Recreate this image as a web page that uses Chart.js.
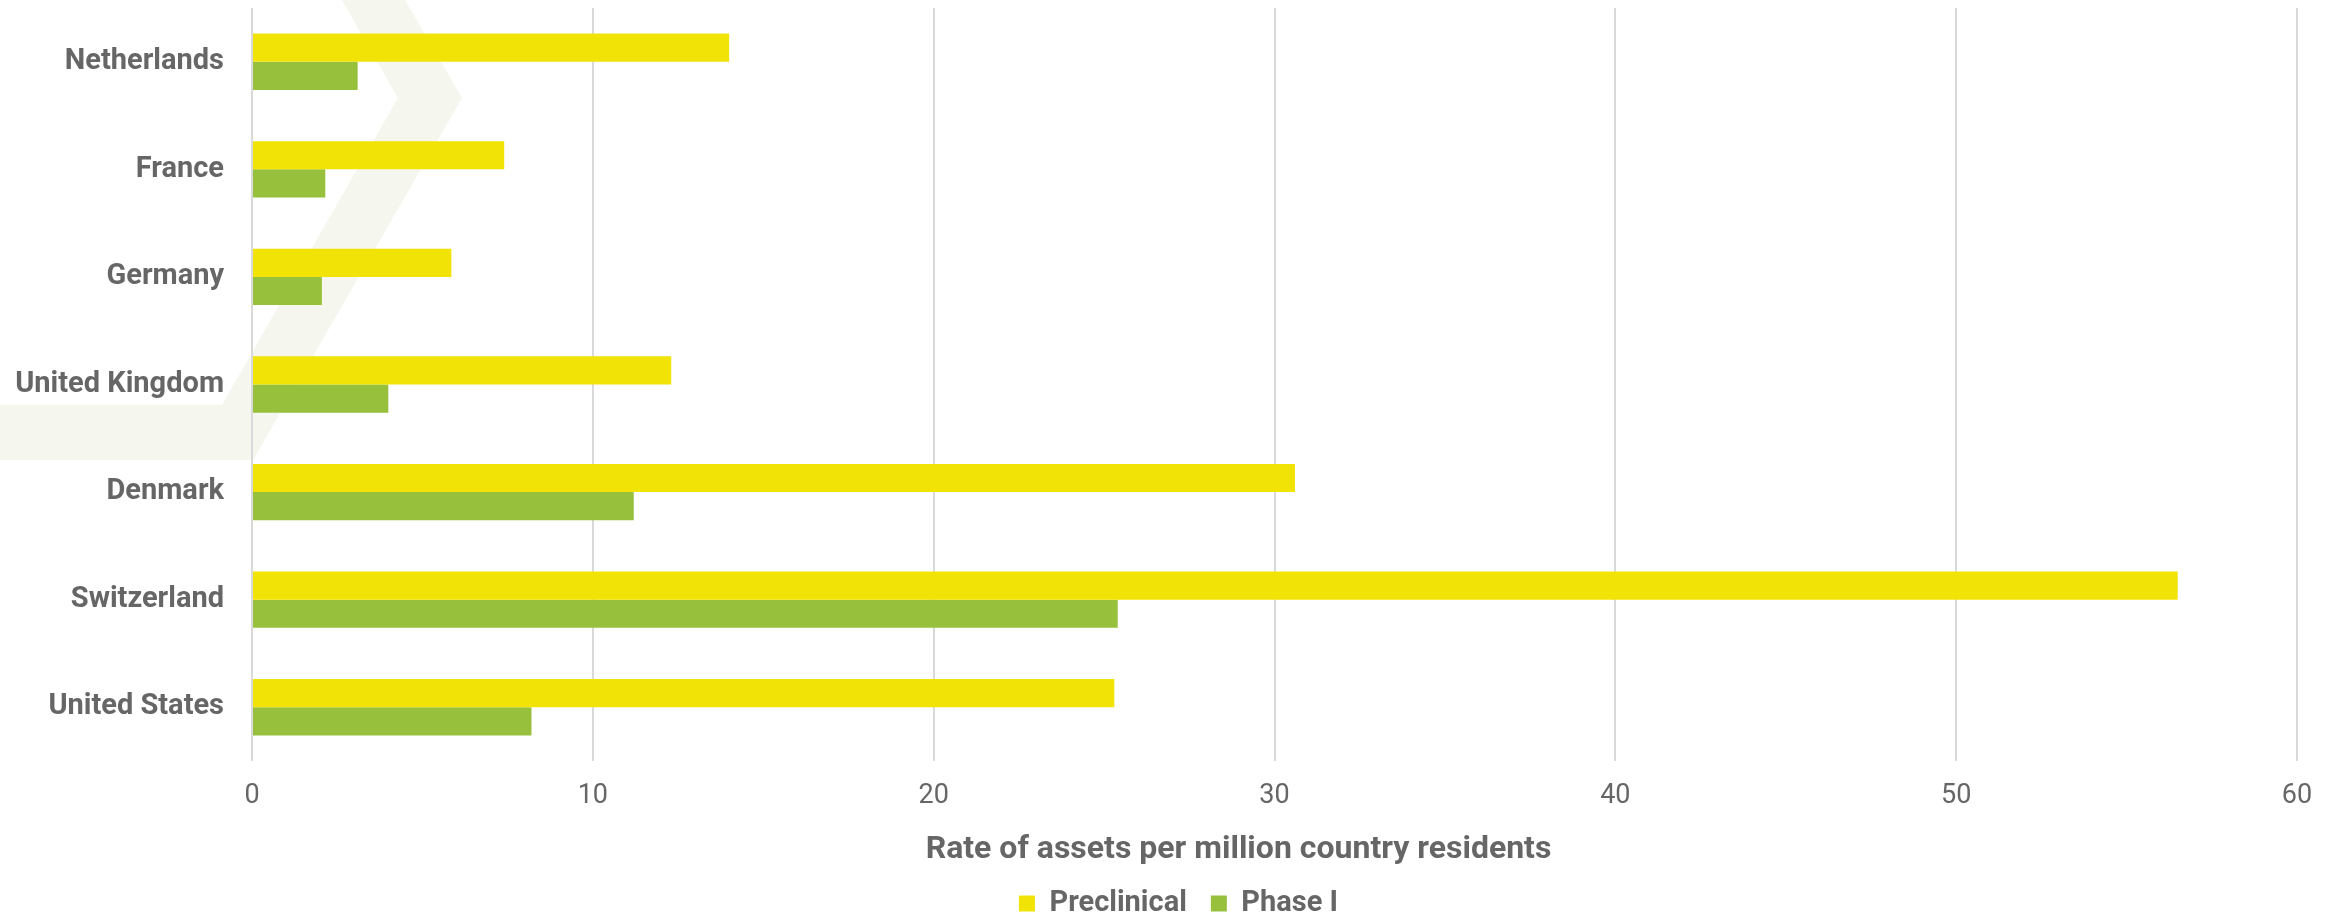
<!DOCTYPE html>
<html>
<head>
<meta charset="utf-8">
<script src="https://cdn.jsdelivr.net/npm/chart.js@4.4.1/dist/chart.umd.min.js"></script>
<style>
    body { margin: 0; background: #fff; }
    #wrap { width: 2341px; height: 917px; position: relative; }
</style>
</head>
<body>
<div id="wrap"><canvas id="rateChart"></canvas></div>
<script>
// Countries, top to bottom
const countries = ['Netherlands', 'France', 'Germany', 'United Kingdom', 'Denmark', 'Switzerland', 'United States'];

// Rate of assets per million residents
const preclinical = [14.0, 7.4, 5.85, 12.3, 30.6, 56.5, 25.3];
const phaseOne = [3.1, 2.15, 2.05, 4.0, 11.2, 25.4, 8.2];

const xTicks = [0, 10, 20, 30, 40, 50, 60];

const grey = '#666666';

// light chevron watermark behind the plot
const watermark = {
    id: 'watermark',
    beforeDraw(chart) {
        const ctx = chart.ctx;
        ctx.save();
        ctx.fillStyle = '#ffffff';
        ctx.fillRect(0, 0, chart.width, chart.height);
        ctx.fillStyle = '#f5f6ee';
        ctx.beginPath();
        ctx.moveTo(342, 0);
        ctx.lineTo(405, 0);
        ctx.lineTo(462, 98);
        ctx.lineTo(253, 460);
        ctx.lineTo(0, 460);
        ctx.lineTo(0, 405);
        ctx.lineTo(222, 405);
        ctx.lineTo(398, 98);
        ctx.closePath();
        ctx.fill();
        ctx.restore();
    }
};

// nudge the legend a bit right, like the original
const legendShift = {
    id: 'legendShift',
    afterLayout(chart) {
        const lg = chart.legend;
        if (!lg) return;
        lg.left += 30;
        lg.right += 30;
    }
};

// the axis title sits a little left of the plot centre in the original
function shiftTitle(axis) {
    if (axis._titleShifted) return;
    axis._titleShifted = true;
    const orig = axis.drawTitle.bind(axis);
    axis.drawTitle = function () {
        this.left -= 36;
        this.right -= 36;
        orig();
        this.left += 36;
        this.right += 36;
    };
}

function drawChart() {
    Chart.defaults.font.family = 'Roboto';
    Chart.defaults.color = grey;

    new Chart(document.getElementById('rateChart'), {
        type: 'bar',
        data: {
            labels: countries,
            datasets: [
                { label: 'Preclinical', data: preclinical, backgroundColor: '#f1e306' },
                { label: 'Phase I', data: phaseOne, backgroundColor: '#97c13d' }
            ]
        },
        options: {
            indexAxis: 'y',
            responsive: true,
            maintainAspectRatio: false,
            animation: false,
            layout: { padding: { top: 8, right: 44, bottom: -11, left: 0 } },
            datasets: { bar: { categoryPercentage: 0.524, barPercentage: 1 } },
            scales: {
                x: {
                    min: xTicks[0],
                    max: xTicks[xTicks.length - 1],
                    afterBuildTicks: axis => { axis.ticks = xTicks.map(v => ({ value: v })); },
                    afterFit: axis => {
                        axis.height = 104;
                        shiftTitle(axis);
                    },
                    grid: { color: '#d9d9d9', lineWidth: 2, drawTicks: false },
                    border: { display: false },
                    ticks: { padding: 19, font: { size: 27 }, color: grey },
                    title: {
                        display: true,
                        text: 'Rate of assets per million country residents',
                        font: { size: 32, weight: 'bold' },
                        color: grey,
                        padding: { top: 0, bottom: -4 }
                    }
                },
                y: {
                    afterFit: axis => {
                        axis.width = 252;
                        axis.paddingTop = 0;
                        axis.paddingBottom = 0;
                    },
                    grid: { display: false, drawTicks: false },
                    border: { display: false },
                    ticks: { padding: 28, font: { size: 29, weight: 'bold' }, color: grey }
                }
            },
            plugins: {
                legend: {
                    position: 'bottom',
                    labels: {
                        boxWidth: 16,
                        boxHeight: 16,
                        padding: 24,
                        font: { size: 29, weight: 'bold' },
                        color: grey
                    }
                },
                tooltip: { enabled: false }
            }
        },
        plugins: [watermark, legendShift]
    });
}

Promise.all([
    document.fonts.load('bold 30px Roboto'),
    document.fonts.load('27px Roboto')
]).then(drawChart, drawChart);
</script>
</body>
</html>
